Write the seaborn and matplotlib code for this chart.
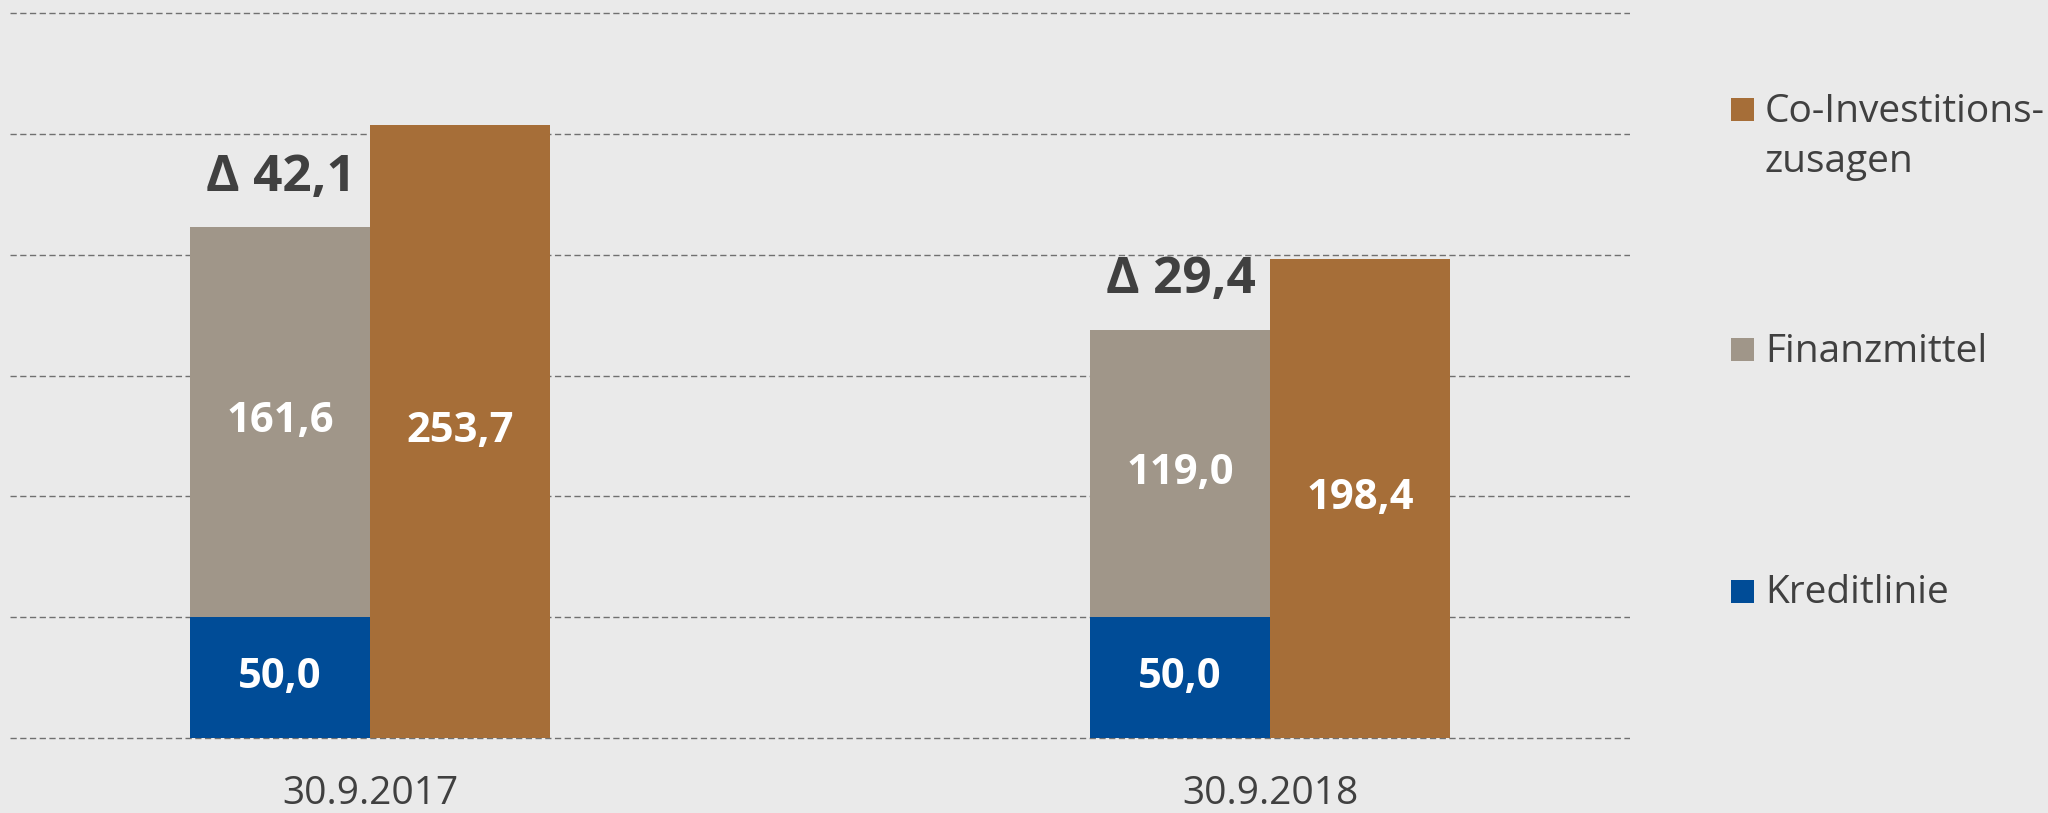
import pandas as pd
import seaborn as sns
import matplotlib.pyplot as plt
from matplotlib.patches import Rectangle

# data
dates = ["30.9.2017", "30.9.2018"]
kreditlinie = [50.0, 50.0]
finanzmittel = [161.6, 119.0]
co_invest = [253.7, 198.4]
delta = ["Δ 42,1", "Δ 29,4"]
legend_labels = ["Co-Investitions-\nzusagen", "Finanzmittel", "Kreditlinie"]

blue = "#004C97"
grey = "#A09689"
brown = "#A66E38"
bg = "#EAEAEA"
dark = "#404040"

sns.set_style("white")
plt.rcParams['font.family'] = ['Open Sans', 'DejaVu Sans']

# left bar = Kreditlinie + Finanzmittel (stacked), right bar = Co-Investitionszusagen
stack_top = [k + f for k, f in zip(kreditlinie, finanzmittel)]
df = pd.DataFrame({
    "Datum": dates * 2,
    "Reihe": ["Mittel"] * 2 + ["Co"] * 2,
    "Wert": stack_top + co_invest,
})

fig = plt.figure(figsize=(20.48, 8.13), dpi=100, facecolor=bg)
W, H = 2048, 813
ppu = 725 / 300  # pixels per unit
ax = fig.add_axes([10 / W, (813 - 738 - ppu) / H, 1620 / W, 303 * ppu / H])
ax.set_facecolor(bg)

sns.barplot(data=df, x="Datum", y="Wert", hue="Reihe", hue_order=["Mittel", "Co"],
            palette=[grey, brown], width=0.4, gap=0, linewidth=0, saturation=1,
            legend=False, ax=ax, zorder=3)

grey_bars = ax.containers[0]
brown_bars = ax.containers[1]
for p, k in zip(grey_bars, kreditlinie):
    ax.bar(p.get_x(), k, width=p.get_width(), align="edge", color=blue, linewidth=0, zorder=4)

def fmt(v):
    return f"{v:.1f}".replace(".", ",")

lab = dict(color="white", fontsize=30, fontweight="bold", ha="center", va="center", zorder=5)
for p, k, f in zip(grey_bars, kreditlinie, finanzmittel):
    cx = p.get_x() + p.get_width() / 2
    ax.text(cx, k / 2, fmt(k), **lab)
    ax.text(cx, k + f / 2, fmt(f), **lab)
for p, c in zip(brown_bars, co_invest):
    ax.text(p.get_x() + p.get_width() / 2, c / 2, fmt(c), **lab)

for p, top, d in zip(brown_bars, stack_top, delta):
    ax.annotate(d, xy=(p.get_x(), top), xytext=(-10, 26), textcoords="offset points",
                ha="right", va="baseline", fontsize=37, fontweight="bold", color=dark)

ax.set_xlim(-0.4, 1.4)
ax.set_ylim(-1, 302)
ax.set_yticks(range(0, 301, 50))
ax.set_yticklabels([])
ax.yaxis.grid(True, color="#707070", linestyle=(0, (4.5, 2.5)), linewidth=1, zorder=0)
ax.set_axisbelow(True)
ax.tick_params(axis="both", length=0)
ax.tick_params(axis="x", pad=25, labelsize=28, labelcolor=dark)
ax.set_xlabel("")
ax.set_ylabel("")
sns.despine(ax=ax, left=True, bottom=True)

# legend drawn by hand so the marker sits on the first line
colors = [brown, grey, blue]
centers = [110, 350, 591]
for col, cy, txt in zip(colors, centers, legend_labels):
    fig.add_artist(Rectangle((1731 / W, (H - cy - 11.5) / H), 23 / W, 23 / H,
                             transform=fig.transFigure, color=col, linewidth=0))
    for i, line in enumerate(txt.split("\n")):
        fig.text(1765 / W, (H - cy - 12 - 50 * i) / H, line, fontsize=28, color=dark,
                 ha="left", va="baseline")

fig.savefig("out.png", dpi=100, facecolor=bg)
